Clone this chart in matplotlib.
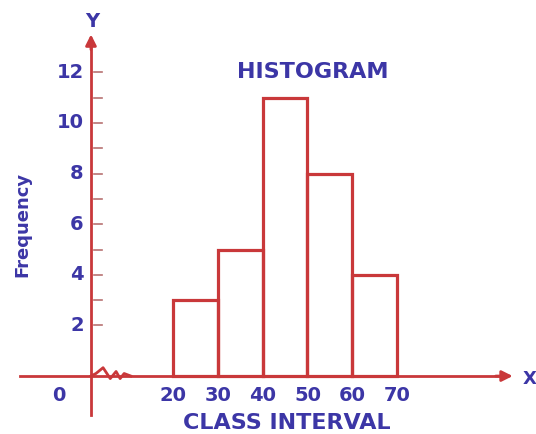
#!usr/bin/env python3
# -*- coding: utf-8 -*-

"""
Hand-drawn style histogram of frequency per class interval.
"""

import matplotlib.pyplot as plt

# class boundaries and frequency of each interval
class_edges = [20, 30, 40, 50, 60, 70]
frequency = [3, 5, 11, 8, 4]
y_tick_labels = [2, 4, 6, 8, 10, 12]
y_minor_ticks = [2, 3, 4, 5, 6, 7, 8, 9, 10, 11, 12]

RED = '#c9383a'
BLUE = '#3c36a6'
FONT = 'DejaVu Sans'

fig = plt.figure(figsize=(5.36, 4.34), dpi=100)
ax = fig.add_axes([0, 0, 1, 1])
ax.set_xlim(-18.6, 101.0)
ax.set_ylim(-2.29, 14.86)
ax.axis('off')

y_axis_x = 1.7

# bars
widths = [b - a for a, b in zip(class_edges[:-1], class_edges[1:])]
ax.bar(class_edges[:-1], frequency, width=widths, align='edge',
       fill=False, edgecolor=RED, linewidth=2.3, zorder=3)

# axes with arrow heads
ax.plot([-14.2, 94.0], [0, 0], color=RED, lw=2.0, zorder=2)
ax.annotate('', xy=(95.8, 0), xytext=(92.0, 0),
            arrowprops=dict(arrowstyle='-|>', color=RED, lw=2.0,
                            mutation_scale=16, shrinkA=0, shrinkB=0))
ax.plot([y_axis_x, y_axis_x], [-1.55, 13.2], color=RED, lw=2.0, zorder=2)
ax.annotate('', xy=(y_axis_x, 13.5), xytext=(y_axis_x, 12.9),
            arrowprops=dict(arrowstyle='-|>', color=RED, lw=2.0,
                            mutation_scale=16, shrinkA=0, shrinkB=0))

# axis break zigzag
zx = [y_axis_x, 2.8, 4.4, 6.0, 7.3, 8.2, 9.1, 10.6]
zy = [0, 0.1, 0.33, -0.1, 0.18, -0.1, 0.1, 0]
ax.plot(zx, zy, color=RED, lw=2.0, zorder=4)

# y ticks
for t in y_minor_ticks:
    ax.plot([y_axis_x + 0.6, y_axis_x + 2.4], [t, t], color='#b87272',
            lw=1.2, zorder=2)
for t in y_tick_labels:
    ax.text(y_axis_x - 1.6, t, str(t), ha='right', va='center',
            fontsize=14, fontweight='bold', color=BLUE, family=FONT)

# x tick labels
for t in class_edges:
    ax.text(t, -0.78, str(t), ha='center', va='center',
            fontsize=14, fontweight='bold', color=BLUE, family=FONT)
ax.text(-4.0, -0.78, '0', ha='right', va='center',
        fontsize=14, fontweight='bold', color=BLUE, family=FONT)

# labels and title
ax.text(45.5, -1.86, 'CLASS INTERVAL', ha='center', va='center',
        fontsize=16, fontweight='bold', color=BLUE, family=FONT)
ax.text(-13.7, 6.0, 'Frequency', ha='center', va='center', rotation=90,
        fontsize=13, fontweight='bold', color=BLUE, family=FONT)
ax.text(51.2, 12.0, 'HISTOGRAM', ha='center', va='center',
        fontsize=16, fontweight='bold', color=BLUE, family=FONT)
ax.text(y_axis_x + 0.2, 14.0, 'Y', ha='center', va='center',
        fontsize=14, fontweight='bold', color=BLUE, family=FONT)
ax.text(99.5, -0.1, 'X', ha='center', va='center',
        fontsize=13, fontweight='bold', color=BLUE, family=FONT)

fig.savefig('out.png', dpi=100, facecolor='white')
